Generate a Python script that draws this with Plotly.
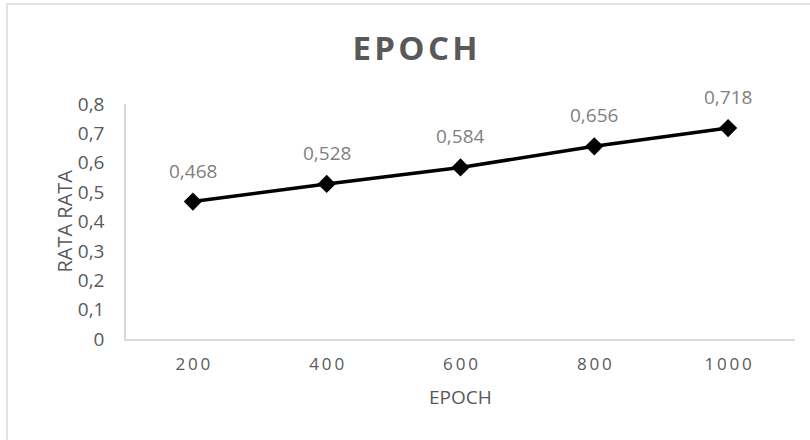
import plotly.graph_objects as go

categories = ["200", "400", "600", "800", "1000"]
values = [0.468, 0.528, 0.584, 0.656, 0.718]
value_labels = ["0,468", "0,528", "0,584", "0,656", "0,718"]
tick_labels = ["\u2009".join(c) for c in categories]

FONT = "Open Sans, Liberation Sans, sans-serif"
GREY = "#595959"

fig = go.Figure()
fig.add_trace(go.Scatter(
    x=categories, y=values, mode="lines+markers",
    line=dict(color="black", width=3.5),
    marker=dict(symbol="diamond", size=14, color="black"),
    hoverinfo="skip", showlegend=False,
))
for i, (v, t) in enumerate(zip(values, value_labels)):
    fig.add_annotation(x=i, y=v, xref="x", yref="y", text=t, showarrow=False,
                       yshift=31, font=dict(family=FONT, size=19, color="#7f7f7f"))

# axis titles
fig.add_annotation(text="RATA RATA", xref="paper", yref="paper",
                   x=(64 - 126) / 669, y=0.5, textangle=-90,
                   showarrow=False, xanchor="center", yanchor="middle",
                   font=dict(family=FONT, size=20, color=GREY))
fig.add_annotation(text="EPOCH", xref="paper", yref="paper",
                   x=(460 - 126) / 669, y=(339 - 397) / 235,
                   showarrow=False, xanchor="center", yanchor="middle",
                   font=dict(family=FONT, size=19, color=GREY))

fig.update_layout(
    width=810, height=440,
    margin=dict(l=126, r=15, t=104, b=101),
    paper_bgcolor="white", plot_bgcolor="white",
    separators=",.",
    title=dict(text="<b>E\u200aP\u200aO\u200aC\u200aH</b>", x=415 / 810, xanchor="center",
               y=1 - 48 / 440, yanchor="middle",
               font=dict(family=FONT, size=33, color=GREY)),
    font=dict(family=FONT, color=GREY),
    shapes=[dict(type="rect", xref="paper", yref="paper",
                 x0=(7 - 126) / 669, x1=1.2, y0=-0.6, y1=(339 - 4) / 235,
                 line=dict(color="#d9d9d9", width=1.5))],
)
fig.update_xaxes(
    type="category", range=[-0.5, 4.5],
    tickvals=categories, ticktext=tick_labels,
    showline=True, linecolor="#d9d9d9", linewidth=1.5,
    showgrid=False, ticks="", tickfont=dict(size=17, color=GREY),
    ticklabelstandoff=9,
)
fig.update_yaxes(
    range=[0, 0.8], dtick=0.1,
    showline=True, linecolor="#d9d9d9", linewidth=1.5,
    showgrid=False, zeroline=False, ticks="",
    tickfont=dict(size=19, color=GREY),
    ticklabelstandoff=16,
)

fig.write_html("out.html", config={"displayModeBar": False},
               post_script="document.body.style.margin='0';")
